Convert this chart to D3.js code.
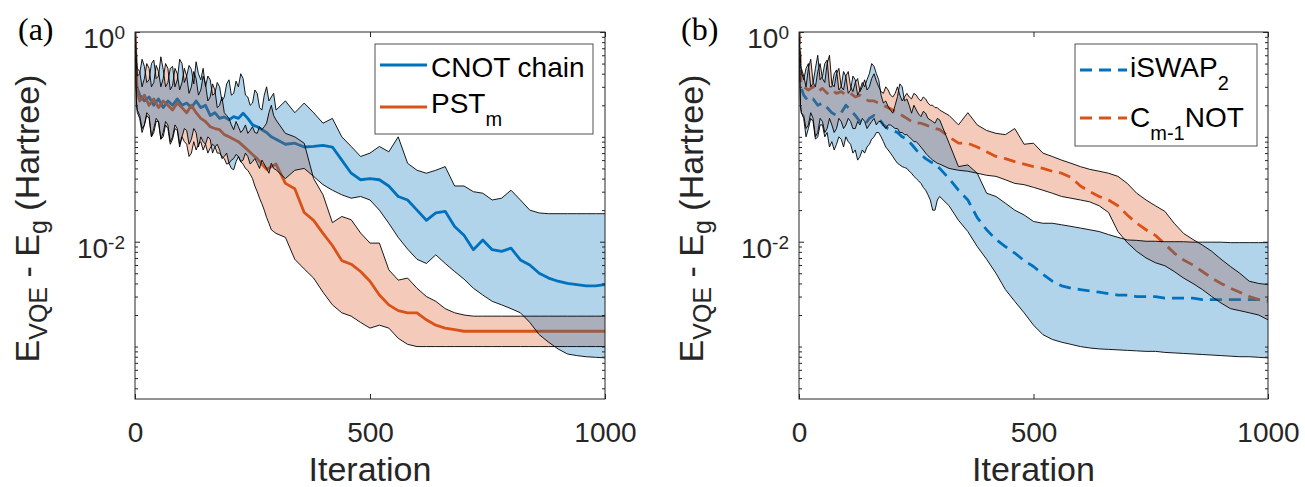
<!DOCTYPE html>
<html>
<head>
<meta charset="utf-8">
<script src="https://cdn.jsdelivr.net/npm/d3@7"></script>
<style>
    body { margin: 0; background: #fff; }
    svg { display: block; font-family: Arial, "Liberation Sans", Helvetica, sans-serif; }
</style>
</head>
<body>
<div id="chart"></div>
<script>
"use strict";

// iteration grid of the mean curves
const iters = [
    0, 4, 10, 20, 30, 40, 50, 60, 70, 80, 90, 100,
    110, 120, 130, 140, 150, 160, 170, 180, 190, 200,
    210, 220, 230, 240, 250, 260, 270, 280, 290, 300,
    320, 340, 360, 380, 400, 420, 440, 460, 480, 500,
    520, 540, 560, 580, 600, 620, 640, 660, 680, 700,
    720, 740, 760, 780, 800, 820, 840, 860, 880, 900,
    920, 940, 960, 980, 1000
];

// iteration grid of the min / max bands (finer where they are noisy)
const bandIters = [
    0, 3, 5, 10, 15, 20, 25, 30, 35, 40, 45, 50,
    55, 60, 65, 70, 75, 80, 85, 90, 95, 100, 105, 110,
    115, 120, 125, 130, 135, 140, 145, 150, 155, 160, 165, 170,
    175, 180, 185, 190, 195, 200, 205, 210, 215, 220, 225, 230,
    235, 240, 245, 250, 255, 260, 265, 270, 275, 280, 285, 290,
    295, 300, 320, 340, 360, 380, 400, 420, 440, 460, 480, 500,
    520, 540, 560, 580, 600, 620, 640, 660, 680, 700,
    720, 740, 760, 780, 800, 820, 840, 860, 880, 900,
    920, 940, 960, 980, 1000
];

// (a) CNOT chain
const cnotMean = [
    1.0, 0.30, 0.25, 0.22, 0.24, 0.20, 0.23, 0.19, 0.22, 0.20, 0.23, 0.20,
    0.21, 0.19, 0.22, 0.19, 0.20, 0.16, 0.17, 0.15, 0.155, 0.145,
    0.156, 0.15, 0.168, 0.15, 0.13, 0.125, 0.117, 0.11, 0.10, 0.095,
    0.085, 0.087, 0.080, 0.081, 0.083, 0.080, 0.060, 0.045, 0.039, 0.040,
    0.039, 0.034, 0.027, 0.025, 0.020, 0.016, 0.0188, 0.0195, 0.014, 0.0115,
    0.0084, 0.0104, 0.0084, 0.0081, 0.0087, 0.0067, 0.006, 0.005, 0.0045, 0.0042,
    0.004, 0.0039, 0.0038, 0.0038, 0.0039
];
const cnotHi = [
    1.1, 0.5, 0.38, 0.40, 0.55, 0.47, 0.33, 0.35, 0.5, 0.54, 0.36, 0.38,
    0.58, 0.44, 0.3, 0.33, 0.45, 0.47, 0.3, 0.35, 0.55, 0.50, 0.33, 0.38,
    0.48, 0.44, 0.32, 0.52, 0.4, 0.35, 0.45, 0.30, 0.38, 0.35, 0.25, 0.26,
    0.33, 0.30, 0.22, 0.24, 0.32, 0.35, 0.25, 0.26, 0.34, 0.30, 0.4, 0.36,
    0.25, 0.24, 0.2, 0.21, 0.28, 0.26, 0.19, 0.18, 0.25, 0.30, 0.22, 0.24,
    0.26, 0.18, 0.22, 0.17, 0.21, 0.17, 0.135, 0.15, 0.10, 0.081, 0.065, 0.07,
    0.081, 0.072, 0.10, 0.056, 0.048, 0.045, 0.048, 0.052, 0.034, 0.034,
    0.030, 0.029, 0.025, 0.026, 0.031, 0.025, 0.020, 0.0188, 0.0185, 0.0185,
    0.0185, 0.0185, 0.0185, 0.0185, 0.0185
];
const cnotLo = [
    0.9, 0.2, 0.17, 0.15, 0.11, 0.13, 0.17, 0.16, 0.1, 0.12, 0.15, 0.14,
    0.095, 0.11, 0.14, 0.13, 0.09, 0.10, 0.13, 0.12, 0.085, 0.10, 0.12, 0.115,
    0.085, 0.095, 0.12, 0.11, 0.08, 0.10, 0.09, 0.085, 0.1, 0.095, 0.07, 0.08,
    0.085, 0.075, 0.062, 0.065, 0.07, 0.056, 0.05, 0.0485, 0.058, 0.065, 0.058, 0.06,
    0.07, 0.065, 0.055, 0.058, 0.062, 0.056, 0.05, 0.06, 0.055, 0.05, 0.045, 0.056,
    0.05, 0.0485, 0.04, 0.048, 0.05, 0.042, 0.035, 0.031, 0.028, 0.026, 0.027, 0.025,
    0.020, 0.015, 0.011, 0.0085, 0.0068, 0.0062, 0.0075, 0.0062, 0.0052, 0.0044,
    0.0036, 0.0031, 0.0027, 0.0025, 0.0023, 0.0021, 0.0017, 0.0013, 0.0011, 0.00095,
    0.00085, 0.00082, 0.0008, 0.00079, 0.00078
];

// (a) PST_m
const pstMean = [
    1.0, 0.28, 0.22, 0.25, 0.20, 0.23, 0.19, 0.22, 0.20, 0.18, 0.21, 0.19,
    0.17, 0.20, 0.17, 0.15, 0.14, 0.125, 0.12, 0.117, 0.105, 0.10,
    0.095, 0.09, 0.082, 0.075, 0.068, 0.062, 0.055, 0.049, 0.052, 0.055,
    0.036, 0.032, 0.019, 0.016, 0.012, 0.0092, 0.0066, 0.0061, 0.0052, 0.0042,
    0.0031, 0.0025, 0.0022, 0.0021, 0.0021, 0.0018, 0.0016, 0.0015, 0.00145, 0.0014,
    0.0014, 0.0014, 0.0014, 0.0014, 0.0014, 0.0014, 0.0014, 0.0014, 0.0014, 0.0014,
    0.0014, 0.0014, 0.0014, 0.0014, 0.0014
];
const pstHi = [
    1.1, 0.5, 0.45, 0.42, 0.3, 0.36, 0.5, 0.45, 0.3, 0.33, 0.48, 0.42,
    0.3, 0.36, 0.5, 0.45, 0.28, 0.31, 0.45, 0.40, 0.28, 0.33, 0.45, 0.38,
    0.26, 0.30, 0.42, 0.36, 0.25, 0.28, 0.38, 0.32, 0.22, 0.24, 0.32, 0.28,
    0.19, 0.20, 0.24, 0.17, 0.16, 0.15, 0.13, 0.117, 0.14, 0.125, 0.11, 0.117,
    0.13, 0.108, 0.115, 0.125, 0.11, 0.108, 0.125, 0.117, 0.125, 0.135, 0.17, 0.20,
    0.16, 0.145, 0.108, 0.10, 0.087, 0.040, 0.028, 0.0152, 0.0174, 0.0162, 0.0121, 0.0097,
    0.0097, 0.0054, 0.0043, 0.0045, 0.0036, 0.0030, 0.0027, 0.0023, 0.0021, 0.0020,
    0.00195, 0.00195, 0.00195, 0.00195, 0.00195, 0.00195, 0.00195, 0.00195, 0.00195, 0.00195,
    0.00195, 0.00195, 0.00195, 0.00195, 0.00195
];
const pstLo = [
    0.9, 0.22, 0.18, 0.16, 0.12, 0.13, 0.16, 0.15, 0.1, 0.11, 0.14, 0.14,
    0.095, 0.10, 0.13, 0.12, 0.085, 0.095, 0.12, 0.115, 0.08, 0.10, 0.09, 0.085,
    0.065, 0.07, 0.09, 0.075, 0.085, 0.09, 0.075, 0.085, 0.07, 0.078, 0.085, 0.081,
    0.07, 0.07, 0.065, 0.062, 0.055, 0.056, 0.06, 0.062, 0.068, 0.065, 0.058, 0.055,
    0.05, 0.048, 0.044, 0.04, 0.034, 0.03, 0.026, 0.023, 0.02, 0.017, 0.015, 0.013,
    0.0125, 0.012, 0.011, 0.0068, 0.0055, 0.0045, 0.0033, 0.0025, 0.0021, 0.00195, 0.0017, 0.0015,
    0.0016, 0.0015, 0.0012, 0.00105, 0.001, 0.001, 0.001, 0.001, 0.001, 0.001,
    0.001, 0.001, 0.001, 0.001, 0.001, 0.001, 0.001, 0.001, 0.001, 0.001,
    0.001, 0.001, 0.001, 0.001, 0.001
];

// (b) iSWAP_2
const iswMean = [
    1.0, 0.30, 0.25, 0.22, 0.23, 0.20, 0.21, 0.19, 0.17, 0.16, 0.17, 0.20,
    0.18, 0.16, 0.14, 0.13, 0.15, 0.16, 0.15, 0.13, 0.12, 0.115,
    0.11, 0.10, 0.095, 0.085, 0.075, 0.068, 0.062, 0.058, 0.055, 0.05,
    0.04, 0.031, 0.025, 0.017, 0.013, 0.0105, 0.009, 0.0078, 0.0066, 0.0058,
    0.0049, 0.0042, 0.0038, 0.0036, 0.0035, 0.0034, 0.0033, 0.0032, 0.0031, 0.0031,
    0.003, 0.003, 0.003, 0.0029, 0.0029, 0.0029, 0.0029, 0.0028, 0.0028, 0.0028,
    0.0028, 0.0028, 0.0028, 0.0028, 0.0028
];
const iswHi = [
    1.1, 0.5, 0.42, 0.35, 0.45, 0.50, 0.3, 0.325, 0.45, 0.60, 0.35, 0.376,
    0.5, 0.54, 0.3, 0.30, 0.4, 0.435, 0.28, 0.30, 0.42, 0.376, 0.26, 0.28,
    0.38, 0.35, 0.25, 0.28, 0.33, 0.30, 0.35, 0.40, 0.5, 0.47, 0.4, 0.35,
    0.25, 0.21, 0.22, 0.195, 0.18, 0.168, 0.2, 0.242, 0.32, 0.30, 0.22, 0.23,
    0.2, 0.168, 0.2, 0.181, 0.165, 0.156, 0.175, 0.168, 0.15, 0.145, 0.14, 0.135,
    0.15, 0.145, 0.087, 0.052, 0.054, 0.045, 0.029, 0.027, 0.0233, 0.020, 0.018, 0.0156,
    0.015, 0.015, 0.0145, 0.014, 0.0135, 0.013, 0.0125, 0.0117, 0.011, 0.0104,
    0.0103, 0.0101, 0.0101, 0.01, 0.01, 0.01, 0.0099, 0.0099, 0.0099, 0.0099,
    0.0098, 0.0098, 0.0098, 0.0098, 0.0098
];
const iswLo = [
    0.9, 0.2, 0.17, 0.15, 0.1, 0.12, 0.15, 0.14, 0.095, 0.10, 0.13, 0.13,
    0.1, 0.11, 0.08, 0.09, 0.075, 0.085, 0.1, 0.095, 0.08, 0.10, 0.09, 0.085,
    0.07, 0.075, 0.06, 0.065, 0.075, 0.07, 0.08, 0.085, 0.095, 0.10, 0.11, 0.11,
    0.1, 0.09, 0.08, 0.075, 0.07, 0.065, 0.06, 0.056, 0.054, 0.052, 0.051, 0.05,
    0.047, 0.045, 0.042, 0.04, 0.038, 0.036, 0.033, 0.031, 0.028, 0.025, 0.02, 0.02,
    0.025, 0.027, 0.022, 0.016, 0.0125, 0.009, 0.0068, 0.005, 0.0035, 0.0027, 0.0021, 0.0016,
    0.0013, 0.00117, 0.0011, 0.00105, 0.001, 0.00097, 0.00095, 0.00094, 0.00093, 0.00092,
    0.00091, 0.0009, 0.0009, 0.00088, 0.00087, 0.00086, 0.00085, 0.00084, 0.00083, 0.00082,
    0.00081, 0.0008, 0.0008, 0.00079, 0.00078
];

// (b) C_{m-1}NOT
const cnMean = [
    1.0, 0.32, 0.30, 0.28, 0.30, 0.27, 0.29, 0.26, 0.28, 0.26, 0.27, 0.25,
    0.26, 0.24, 0.25, 0.23, 0.22, 0.22, 0.21, 0.20, 0.19, 0.18,
    0.17, 0.16, 0.15, 0.14, 0.135, 0.135, 0.13, 0.125, 0.12, 0.117,
    0.10, 0.087, 0.087, 0.08, 0.072, 0.065, 0.062, 0.058, 0.055, 0.052,
    0.05, 0.047, 0.045, 0.041, 0.034, 0.03, 0.027, 0.025, 0.022, 0.018,
    0.015, 0.013, 0.0115, 0.0095, 0.0078, 0.0067, 0.006, 0.0052, 0.0045, 0.004,
    0.0036, 0.0033, 0.003, 0.0028, 0.0027
];
const cnHi = [
    1.1, 0.5, 0.45, 0.38, 0.3, 0.45, 0.55, 0.33, 0.3, 0.42, 0.5, 0.36,
    0.33, 0.50, 0.6, 0.32, 0.3, 0.40, 0.45, 0.30, 0.28, 0.38, 0.42, 0.30,
    0.27, 0.33, 0.36, 0.27, 0.3, 0.35, 0.28, 0.30, 0.36, 0.40, 0.34, 0.30,
    0.27, 0.26, 0.3, 0.28, 0.25, 0.24, 0.26, 0.30, 0.25, 0.22, 0.24, 0.26,
    0.24, 0.23, 0.26, 0.25, 0.23, 0.22, 0.24, 0.23, 0.21, 0.20, 0.2, 0.19,
    0.19, 0.18, 0.16, 0.13, 0.17, 0.13, 0.115, 0.108, 0.105, 0.12, 0.085, 0.087,
    0.07, 0.065, 0.06, 0.056, 0.052, 0.049, 0.047, 0.045, 0.042, 0.036,
    0.029, 0.025, 0.022, 0.0195, 0.015, 0.012, 0.0105, 0.0093, 0.0081, 0.0068,
    0.0058, 0.005, 0.0042, 0.004, 0.0039
];
const cnLo = [
    0.9, 0.2, 0.17, 0.16, 0.12, 0.13, 0.17, 0.15, 0.1, 0.11, 0.15, 0.14,
    0.11, 0.12, 0.15, 0.13, 0.11, 0.12, 0.15, 0.14, 0.12, 0.13, 0.15, 0.14,
    0.12, 0.12, 0.14, 0.13, 0.15, 0.14, 0.12, 0.13, 0.14, 0.15, 0.13, 0.14,
    0.14, 0.13, 0.12, 0.13, 0.13, 0.125, 0.12, 0.12, 0.11, 0.11, 0.105, 0.105,
    0.1, 0.095, 0.09, 0.09, 0.085, 0.08, 0.075, 0.07, 0.066, 0.063, 0.06, 0.058,
    0.056, 0.055, 0.05, 0.048, 0.047, 0.045, 0.043, 0.042, 0.039, 0.036, 0.035, 0.033,
    0.031, 0.029, 0.027, 0.026, 0.025, 0.024, 0.022, 0.019, 0.0125, 0.0098,
    0.0081, 0.007, 0.0063, 0.0059, 0.0052, 0.0045, 0.004, 0.0035, 0.003, 0.0026,
    0.0023, 0.0022, 0.0021, 0.002, 0.0018
];

// tick values and labels
const xTicks = [0, 500, 1000];
const yMajor = [1, 0.01];
const yMajorExp = ["0", "-2"];

// legend labels: pieces, sub = subscript
const labelsA = [
    [{ t: "CNOT chain" }],
    [{ t: "PST" }, { t: "m", sub: true }]
];
const labelsB = [
    [{ t: "iSWAP" }, { t: "2", sub: true }],
    [{ t: "C" }, { t: "m-1", sub: true }, { t: "NOT" }]
];

// layout
const W = 1305, H = 487;
const TOP = 32, BOTTOM = 399;
const BLUE = "#0072BD", ORANGE = "#D95319", AXIS = "#262626";
const FONT = "Arial, 'Liberation Sans', Helvetica, sans-serif";

var svg = d3.select("#chart")
    .append("svg")
    .attr("width", W)
    .attr("height", H);

svg.append("rect").attr("width", W).attr("height", H).attr("fill", "#fff");

// minor log ticks 1..9 x 10^k inside the domain, majors left out
var yMinor = [];
for (let k = -4; k <= 0; k++) {
    for (let m = 1; m <= 9; m++) {
        let v = +(m * Math.pow(10, k)).toPrecision(3);
        if (v >= Math.pow(10, -3.5) && v <= 1 && yMajor.indexOf(v) < 0) yMinor.push(v);
    }
}

function addLabel(textSel, parts, size, subSize, shift) {
    var down = 0;
    parts.forEach(p => {
        var target = p.sub ? shift : 0;
        textSel.append("tspan")
            .attr("dy", target - down)
            .style("font-size", (p.sub ? subSize : size) + "px")
            .text(p.t);
        down = target;
    });
}

function drawPanel(p) {
    var x = d3.scaleLinear().domain([0, 1000]).range([p.left, p.right]);
    var y = d3.scaleLog().domain([Math.pow(10, -3.5), 1]).range([BOTTOM, TOP]);

    var g = svg.append("g");

    // clip
    g.append("clipPath")
        .attr("id", "clip-" + p.id)
        .append("rect")
        .attr("x", p.left)
        .attr("y", TOP)
        .attr("width", p.right - p.left)
        .attr("height", BOTTOM - TOP);

    var plot = g.append("g").attr("clip-path", `url(#clip-${p.id})`);

    var meanIdx = d3.range(iters.length);
    var bandIdx = d3.range(bandIters.length);

    var meanLine = arr => d3.line().x(i => x(iters[i])).y(i => y(arr[i]))(meanIdx);
    var edgeLine = arr => d3.line().x(i => x(bandIters[i])).y(i => y(arr[i]))(bandIdx);
    var band = (lo, hi) => d3.area().x(i => x(bandIters[i])).y0(i => y(lo[i])).y1(i => y(hi[i]))(bandIdx);

    // mean lines first, the shaded bands sit on top of them
    p.series.forEach(s => {
        plot.append("path")
            .attr("d", meanLine(s.mean))
            .attr("fill", "none")
            .attr("stroke", s.color)
            .attr("stroke-width", 2.8)
            .attr("stroke-linejoin", "round")
            .attr("stroke-dasharray", p.dash || null);
    });

    // bands: orange first, blue over it
    p.series.slice().reverse().forEach(s => {
        plot.append("path")
            .attr("d", band(s.lo, s.hi))
            .attr("fill", s.color)
            .attr("fill-opacity", 0.3);
    });

    // black band edges
    p.series.slice().reverse().forEach(s => {
        [s.hi, s.lo].forEach(arr => {
            plot.append("path")
                .attr("d", edgeLine(arr))
                .attr("fill", "none")
                .attr("stroke", "#000")
                .attr("stroke-width", 0.9);
        });
    });

    // axes
    var axes = g.append("g").attr("color", AXIS);

    axes.append("g")
        .attr("transform", `translate(0,${BOTTOM})`)
        .call(d3.axisBottom(x).tickValues(xTicks).tickSizeInner(-5).tickSizeOuter(0).tickPadding(23).tickFormat(d3.format("d")))
        .call(a => a.select(".domain").remove())
        .call(a => a.selectAll("text").attr("font-family", FONT).style("font-size", "28px").attr("fill", AXIS));

    axes.append("g")
        .attr("transform", `translate(0,${TOP})`)
        .call(d3.axisTop(x).tickValues(xTicks).tickSizeInner(-5).tickSizeOuter(0).tickFormat(""))
        .call(a => a.select(".domain").remove());

    [[d3.axisLeft, p.left], [d3.axisRight, p.right]].forEach(([fn, pos]) => {
        axes.append("g")
            .attr("transform", `translate(${pos},0)`)
            .call(fn(y).tickValues(yMajor).tickSizeInner(-5).tickSizeOuter(0).tickFormat(""))
            .call(a => a.select(".domain").remove());
        axes.append("g")
            .attr("transform", `translate(${pos},0)`)
            .call(fn(y).tickValues(yMinor).tickSizeInner(-3).tickSizeOuter(0).tickFormat(""))
            .call(a => a.select(".domain").remove());
    });

    // y tick labels 10^k
    yMajor.forEach((v, k) => {
        var t = axes.append("text")
            .attr("x", p.left - 10)
            .attr("y", y(v) + 16)
            .attr("text-anchor", "end")
            .attr("font-family", FONT)
            .attr("fill", AXIS)
            .style("font-size", "28px");
        t.append("tspan").text("10");
        t.append("tspan").attr("dy", -9).style("font-size", "19px").text(yMajorExp[k]);
    });

    // frame
    axes.append("rect")
        .attr("x", p.left)
        .attr("y", TOP)
        .attr("width", p.right - p.left)
        .attr("height", BOTTOM - TOP)
        .attr("fill", "none")
        .attr("stroke", AXIS)
        .attr("stroke-width", 1);

    // axis titles
    axes.append("text")
        .attr("x", (p.left + p.right) / 2)
        .attr("y", 481)
        .attr("text-anchor", "middle")
        .attr("font-family", FONT)
        .attr("fill", AXIS)
        .style("font-size", "34px")
        .text("Iteration");

    var yl = axes.append("text")
        .attr("transform", `translate(${p.left - 96},${(TOP + BOTTOM) / 2 + 3}) rotate(-90)`)
        .attr("text-anchor", "middle")
        .attr("font-family", FONT)
        .attr("fill", AXIS)
        .style("font-size", "34px");
    addLabel(yl, [
        { t: "E" }, { t: "VQE", sub: true }, { t: " - E" }, { t: "g", sub: true }, { t: " (Hartree)" }
    ], 34, 25, 8);

    // panel tag
    svg.append("text")
        .attr("x", p.tagX)
        .attr("y", 40)
        .attr("font-family", "'Times New Roman', 'Liberation Serif', serif")
        .attr("fill", "#000")
        .style("font-size", "32px")
        .text(p.tag);

    // legend
    var L = p.legend;
    var leg = g.append("g");
    leg.append("rect")
        .attr("x", L.x)
        .attr("y", L.y)
        .attr("width", L.w)
        .attr("height", L.h)
        .attr("fill", "#fff")
        .attr("stroke", AXIS)
        .attr("stroke-width", 0.8);

    p.series.forEach((s, k) => {
        leg.append("line")
            .attr("x1", L.x + 5)
            .attr("x2", L.x + 52)
            .attr("y1", L.lineY[k])
            .attr("y2", L.lineY[k])
            .attr("stroke", s.color)
            .attr("stroke-width", 2.8)
            .attr("stroke-dasharray", p.dash || null);
        var t = leg.append("text")
            .attr("x", L.textX)
            .attr("y", L.textY[k])
            .attr("font-family", FONT)
            .attr("fill", "#000")
            .style("font-size", "28px");
        addLabel(t, s.label, 28, 20, 13);
    });
}

drawPanel({
    id: "a", tag: "(a)", tagX: 18,
    left: 135, right: 605,
    series: [
        { color: BLUE, hi: cnotHi, mean: cnotMean, lo: cnotLo, label: labelsA[0] },
        { color: ORANGE, hi: pstHi, mean: pstMean, lo: pstLo, label: labelsA[1] }
    ],
    legend: { x: 375, y: 44, w: 218, h: 90, lineY: [65, 107], textX: 431, textY: [77, 113] }
});

drawPanel({
    id: "b", tag: "(b)", tagX: 681,
    left: 799, right: 1268,
    dash: "12,7",
    series: [
        { color: BLUE, hi: iswHi, mean: iswMean, lo: iswLo, label: labelsB[0] },
        { color: ORANGE, hi: cnHi, mean: cnMean, lo: cnLo, label: labelsB[1] }
    ],
    legend: { x: 1075, y: 44, w: 182, h: 102, lineY: [70, 118], textX: 1130, textY: [77, 127] }
});
</script>
</body>
</html>
